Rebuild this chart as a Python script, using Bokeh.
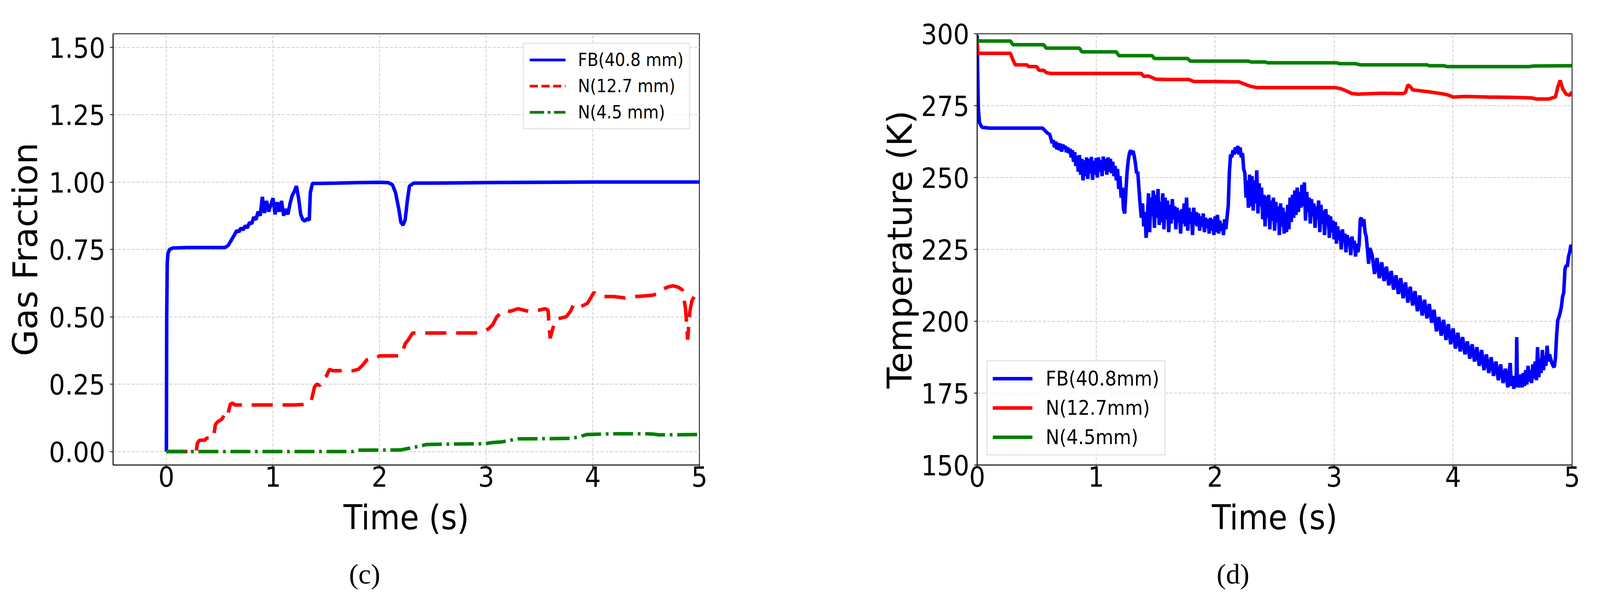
from bokeh.plotting import figure
from bokeh.layouts import row
from bokeh.models import Range1d, Legend, LegendItem, Title, FixedTicker, NumeralTickFormatter
from bokeh.embed import file_html
from bokeh.resources import INLINE

# ---------------- data: panel (c) gas fraction ----------------
x_ticks = [0, 1, 2, 3, 4, 5]
gf_ticks = [0.0, 0.25, 0.5, 0.75, 1.0, 1.25, 1.5]
T_ticks = [150, 175, 200, 225, 250, 275, 300]

gf_fb = [(0.0, 0.0), (0.003, 0.50), (0.008, 0.70), (0.015, 0.735), (0.03, 0.750), (0.06, 0.755),
         (0.2, 0.757), (0.4, 0.757), (0.55, 0.757), (0.58, 0.765), (0.61, 0.785), (0.64, 0.805),
         (0.66, 0.82), (0.68, 0.815), (0.70, 0.83), (0.72, 0.822), (0.74, 0.838), (0.76, 0.83),
         (0.78, 0.85), (0.80, 0.845), (0.82, 0.87), (0.84, 0.86), (0.86, 0.89), (0.88, 0.875),
         (0.90, 0.945), (0.92, 0.885), (0.94, 0.93), (0.96, 0.89), (0.98, 0.915), (1.00, 0.94),
         (1.02, 0.88), (1.04, 0.925), (1.06, 0.89), (1.08, 0.93), (1.10, 0.875), (1.12, 0.90),
         (1.14, 0.88), (1.16, 0.92), (1.18, 0.95), (1.20, 0.965), (1.22, 0.985), (1.24, 0.94),
         (1.26, 0.88), (1.28, 0.86), (1.30, 0.855), (1.32, 0.865), (1.34, 0.858), (1.35, 0.96),
         (1.37, 0.995), (1.45, 0.995), (1.6, 0.996), (1.8, 0.998), (2.0, 0.999), (2.08, 0.998),
         (2.12, 0.99), (2.15, 0.96), (2.18, 0.90), (2.20, 0.85), (2.22, 0.84), (2.24, 0.86),
         (2.26, 0.93), (2.28, 0.985), (2.32, 0.996), (2.5, 0.996), (3.0, 0.998), (3.5, 0.999),
         (4.0, 1.0), (4.5, 1.0), (5.0, 1.0)]

gf_n127 = [(0.0, 0.0), (0.28, 0.0), (0.29, 0.03), (0.31, 0.042), (0.36, 0.042), (0.38, 0.05),
           (0.44, 0.05), (0.46, 0.10), (0.48, 0.11), (0.52, 0.12), (0.55, 0.14), (0.57, 0.13),
           (0.60, 0.175), (0.62, 0.18), (0.64, 0.173), (0.8, 0.173), (1.0, 0.173), (1.2, 0.173),
           (1.32, 0.175), (1.36, 0.19), (1.39, 0.24), (1.41, 0.25), (1.44, 0.245), (1.47, 0.27),
           (1.50, 0.28), (1.53, 0.305), (1.56, 0.30), (1.65, 0.30), (1.75, 0.30), (1.80, 0.305),
           (1.84, 0.32), (1.88, 0.34), (1.92, 0.345), (1.96, 0.345), (2.0, 0.355), (2.1, 0.355),
           (2.18, 0.355), (2.21, 0.365), (2.24, 0.40), (2.27, 0.415), (2.31, 0.44), (2.36, 0.44),
           (2.5, 0.44), (2.7, 0.44), (2.9, 0.44), (2.98, 0.445), (3.02, 0.455), (3.06, 0.47),
           (3.10, 0.50), (3.14, 0.515), (3.18, 0.525), (3.22, 0.52), (3.3, 0.53), (3.4, 0.52),
           (3.5, 0.525), (3.55, 0.53), (3.58, 0.525), (3.59, 0.47), (3.60, 0.42), (3.62, 0.45),
           (3.65, 0.49), (3.70, 0.495), (3.75, 0.50), (3.79, 0.52), (3.82, 0.545), (3.86, 0.535),
           (3.90, 0.54), (3.95, 0.55), (3.98, 0.57), (4.01, 0.59), (4.05, 0.58), (4.1, 0.575),
           (4.2, 0.575), (4.3, 0.57), (4.4, 0.575), (4.5, 0.578), (4.56, 0.58), (4.6, 0.585),
           (4.65, 0.60), (4.7, 0.61), (4.75, 0.615), (4.8, 0.61), (4.84, 0.60), (4.87, 0.53),
           (4.89, 0.415), (4.91, 0.52), (4.93, 0.56), (4.96, 0.58), (5.0, 0.57)]

gf_n45 = [(0.0, 0.0), (0.5, 0.0), (1.0, 0.0), (1.5, 0.0), (1.75, 0.0), (1.8, 0.005), (2.2, 0.006),
          (2.25, 0.01), (2.35, 0.018), (2.44, 0.026), (2.7, 0.028), (2.99, 0.029), (3.05, 0.033),
          (3.15, 0.036), (3.2, 0.04), (3.3, 0.047), (3.6, 0.048), (3.8, 0.049), (3.88, 0.055),
          (3.94, 0.063), (4.2, 0.066), (4.5, 0.066), (4.56, 0.065), (4.62, 0.062), (5.0, 0.063)]

# ---------------- data: panel (d) temperature ----------------
T_fb = [(0.00, 299.5), (0.005, 285.0), (0.01, 274.0), (0.02, 269.0), (0.04, 267.5), (0.1, 267.2),
        (0.3, 267.2), (0.55, 267.2), (0.57, 266.3), (0.59, 265.5), (0.61, 265.0), (0.62, 263.5),
        (0.63, 262.0), (0.64, 263.0), (0.65, 260.5), (0.66, 262.5), (0.67, 259.8), (0.68, 262.0),
        (0.69, 259.5), (0.70, 261.8), (0.71, 259.0), (0.72, 261.5), (0.73, 260.0), (0.74, 261.0),
        (0.75, 258.8), (0.76, 260.5), (0.77, 258.5), (0.78, 260.0), (0.79, 257.0), (0.80, 259.5),
        (0.81, 255.5), (0.82, 258.8), (0.83, 254.0), (0.84, 257.5), (0.85, 252.0), (0.86, 257.8),
        (0.87, 251.0), (0.88, 256.5), (0.89, 249.0), (0.90, 256.0), (0.91, 250.5), (0.92, 257.0),
        (0.93, 249.5), (0.94, 256.5), (0.95, 251.5), (0.96, 257.2), (0.97, 249.2), (0.98, 255.8),
        (0.99, 251.0), (1.00, 256.8), (1.01, 250.0), (1.02, 257.0), (1.03, 252.0), (1.04, 256.0),
        (1.05, 250.5), (1.06, 257.3), (1.07, 252.5), (1.08, 256.5), (1.09, 251.0), (1.10, 257.0),
        (1.11, 252.0), (1.12, 256.5), (1.13, 251.5), (1.14, 255.5), (1.15, 250.5), (1.16, 254.0),
        (1.17, 249.0), (1.18, 253.0), (1.19, 246.0), (1.20, 250.5), (1.21, 243.0), (1.22, 246.5),
        (1.23, 239.0), (1.24, 237.5), (1.25, 245.0), (1.26, 252.0), (1.27, 256.0), (1.28, 258.5),
        (1.29, 259.5), (1.30, 258.0), (1.31, 259.3), (1.32, 257.5), (1.33, 255.0), (1.34, 251.5),
        (1.35, 252.0), (1.36, 246.0), (1.37, 240.5), (1.38, 236.0), (1.39, 241.0), (1.40, 233.0),
        (1.41, 238.0), (1.42, 229.0), (1.43, 235.0),
        (1.44, 244.5), (1.45, 231.0), (1.46, 243.0), (1.47, 236.5), (1.48, 245.5), (1.49, 232.5),
        (1.50, 244.0), (1.51, 236.0), (1.52, 246.0), (1.53, 233.5), (1.54, 241.5), (1.55, 234.5),
        (1.56, 244.5), (1.57, 232.0), (1.58, 243.0), (1.59, 235.5), (1.60, 242.0), (1.61, 231.0),
        (1.62, 240.5), (1.63, 234.0), (1.64, 242.5), (1.65, 235.5), (1.66, 240.0), (1.67, 232.0),
        (1.68, 239.5), (1.69, 234.5), (1.70, 238.5), (1.71, 230.5), (1.72, 239.0), (1.73, 234.0),
        (1.74, 241.0), (1.75, 233.0), (1.76, 243.0), (1.77, 231.5), (1.78, 239.5), (1.79, 234.0),
        (1.80, 238.0), (1.81, 230.0), (1.82, 239.5), (1.83, 233.5), (1.84, 238.0), (1.85, 233.0),
        (1.86, 237.5), (1.87, 231.5), (1.88, 236.5), (1.89, 233.0), (1.90, 237.5), (1.91, 231.0),
        (1.92, 236.0), (1.93, 232.5), (1.94, 235.5), (1.95, 230.5), (1.96, 236.0), (1.97, 231.5),
        (1.98, 235.5), (1.99, 230.0), (2.00, 236.5), (2.01, 231.0), (2.02, 237.0), (2.03, 230.5),
        (2.04, 235.0), (2.05, 231.5), (2.06, 234.0), (2.07, 230.0), (2.08, 235.5), (2.09, 232.0),
        (2.10, 236.0),
        (2.11, 240.0), (2.12, 252.0), (2.13, 258.0), (2.14, 257.0), (2.15, 259.5), (2.16, 258.0),
        (2.17, 260.5), (2.18, 258.5), (2.19, 261.0), (2.20, 258.0), (2.21, 260.5), (2.22, 257.0),
        (2.23, 258.5), (2.24, 253.0), (2.25, 251.5), (2.26, 243.0), (2.27, 249.0), (2.28, 239.5),
        (2.29, 251.0), (2.30, 240.0), (2.31, 250.5), (2.32, 238.5), (2.33, 249.0), (2.34, 241.0),
        (2.35, 252.5), (2.36, 237.5), (2.37, 248.0), (2.38, 240.0), (2.39, 246.5), (2.40, 235.5),
        (2.41, 244.0), (2.42, 233.0), (2.43, 243.5), (2.44, 236.0), (2.45, 244.0), (2.46, 232.0),
        (2.47, 242.0), (2.48, 235.0), (2.49, 243.0), (2.50, 231.5), (2.51, 241.5), (2.52, 234.5),
        (2.53, 240.0), (2.54, 230.0), (2.55, 241.0), (2.56, 233.0), (2.57, 239.5), (2.58, 230.5),
        (2.59, 238.0), (2.60, 231.0),
        (2.61, 240.5), (2.62, 232.0), (2.63, 243.0), (2.64, 234.5), (2.65, 244.0), (2.66, 236.0),
        (2.67, 245.5), (2.68, 237.0), (2.69, 246.5), (2.70, 238.0), (2.71, 245.0), (2.72, 239.5),
        (2.73, 247.5), (2.74, 240.0), (2.75, 248.3), (2.76, 235.0), (2.77, 245.0), (2.78, 238.0),
        (2.79, 243.0), (2.80, 234.0), (2.81, 242.5), (2.82, 236.5), (2.83, 241.0), (2.84, 232.5),
        (2.85, 240.0), (2.86, 235.5), (2.87, 242.0), (2.88, 231.0), (2.89, 240.5), (2.90, 234.0),
        (2.91, 238.5), (2.92, 230.0), (2.93, 239.0), (2.94, 233.5), (2.95, 237.0), (2.96, 229.0),
        (2.97, 236.5), (2.98, 231.0), (2.99, 235.0), (3.00, 228.5),
        (3.01, 234.5), (3.02, 227.0), (3.03, 233.0), (3.04, 228.5), (3.05, 231.5), (3.06, 225.0),
        (3.07, 232.0), (3.08, 227.5), (3.09, 230.5), (3.10, 224.0), (3.11, 230.0), (3.12, 226.5),
        (3.13, 229.0), (3.14, 223.0), (3.15, 229.5), (3.16, 225.5), (3.17, 228.0), (3.18, 222.5),
        (3.19, 227.0), (3.20, 224.0), (3.21, 226.5), (3.22, 235.5), (3.23, 236.0), (3.24, 233.0),
        (3.25, 235.5), (3.26, 231.0), (3.27, 229.5), (3.28, 225.0), (3.29, 220.0), (3.30, 225.5),
        (3.32, 223.0), (3.34, 216.5), (3.36, 222.0), (3.38, 215.0), (3.40, 220.5), (3.42, 214.0),
        (3.44, 219.0), (3.46, 212.5), (3.48, 217.5), (3.50, 211.0), (3.52, 216.0), (3.54, 209.5),
        (3.56, 215.0), (3.58, 208.0), (3.60, 213.5), (3.62, 206.5), (3.64, 212.0), (3.66, 205.5),
        (3.68, 210.5), (3.70, 203.5), (3.72, 209.0), (3.74, 202.0), (3.76, 207.5), (3.78, 201.0),
        (3.80, 206.0), (3.82, 199.5), (3.84, 204.0), (3.86, 196.5), (3.88, 201.5), (3.90, 195.0),
        (3.92, 200.5), (3.94, 193.5), (3.96, 199.0), (3.98, 192.0), (4.00, 197.5), (4.02, 190.5),
        (4.04, 196.0), (4.06, 189.5), (4.08, 194.5), (4.10, 188.5), (4.12, 193.0), (4.14, 187.0),
        (4.16, 192.0), (4.18, 186.0), (4.20, 191.0), (4.22, 184.5), (4.24, 190.0), (4.26, 183.0),
        (4.28, 188.5), (4.30, 182.0), (4.32, 187.5), (4.34, 181.0), (4.36, 186.0), (4.38, 179.5),
        (4.40, 185.0), (4.42, 178.5), (4.44, 183.5), (4.46, 177.0),
        (4.47, 181.5), (4.48, 185.5), (4.49, 177.5), (4.50, 181.0), (4.51, 176.5), (4.52, 180.0),
        (4.53, 177.0), (4.535, 194.5), (4.54, 178.0), (4.55, 180.0), (4.56, 177.0), (4.57, 181.5),
        (4.58, 177.0), (4.59, 182.0), (4.60, 177.5), (4.61, 183.0), (4.62, 178.0), (4.63, 184.5),
        (4.64, 179.0), (4.65, 183.0), (4.66, 178.5), (4.67, 185.0), (4.68, 180.0), (4.69, 186.0),
        (4.70, 179.5), (4.71, 191.0), (4.72, 180.5), (4.73, 187.0), (4.74, 182.0), (4.75, 190.0),
        (4.76, 183.0), (4.77, 188.0), (4.78, 184.5), (4.79, 191.5), (4.80, 186.0), (4.81, 188.5),
        (4.82, 187.0), (4.83, 185.5), (4.84, 184.5), (4.85, 184.0), (4.86, 187.0), (4.87, 195.0),
        (4.88, 200.5), (4.89, 201.5), (4.90, 203.0), (4.91, 205.0), (4.92, 208.5), (4.93, 210.0),
        (4.94, 218.0), (4.95, 219.5), (4.96, 219.0), (4.97, 222.5), (4.98, 224.0), (4.99, 226.5),
        (5.00, 226.0)]

T_n127 = [(0.0, 297.0), (0.005, 294.0), (0.01, 293.2), (0.28, 293.2), (0.3, 291.0), (0.32, 289.2),
          (0.42, 289.2), (0.43, 288.6), (0.5, 288.6), (0.52, 287.3), (0.56, 287.3), (0.58, 286.5),
          (0.62, 286.2), (1.0, 286.2), (1.38, 286.2), (1.40, 285.2), (1.44, 285.3), (1.48, 284.6),
          (1.5, 284.2), (1.6, 284.1), (1.78, 284.1), (1.82, 283.4), (2.0, 283.4), (2.15, 283.3),
          (2.2, 283.3), (2.26, 282.3), (2.3, 281.7), (2.35, 281.3), (2.6, 281.3), (3.0, 281.3),
          (3.05, 281.0), (3.1, 280.2), (3.15, 279.2), (3.2, 279.0), (3.4, 279.3), (3.58, 279.2),
          (3.60, 279.6), (3.62, 282.2), (3.64, 281.6), (3.66, 280.5), (3.7, 280.3), (3.8, 279.8),
          (3.9, 279.2), (3.95, 278.8), (4.0, 278.0), (4.1, 278.2), (4.3, 278.0), (4.5, 277.9),
          (4.66, 277.7), (4.7, 277.3), (4.8, 277.3), (4.86, 278.0), (4.88, 281.5), (4.9, 283.8),
          (4.92, 281.0), (4.95, 279.0), (4.98, 278.6), (5.0, 279.8)]

T_n45 = [(0.0, 298.5), (0.01, 297.5), (0.28, 297.5), (0.30, 296.2), (0.56, 296.2), (0.58, 295.0),
         (0.86, 295.0), (0.88, 293.7), (1.17, 293.7), (1.19, 292.4), (1.47, 292.4), (1.49, 291.4),
         (1.77, 291.4), (1.79, 290.5), (2.28, 290.5), (2.3, 290.2), (2.42, 290.2), (2.44, 289.9),
         (3.02, 289.9), (3.05, 289.6), (3.18, 289.6), (3.22, 289.2), (3.78, 289.2), (3.8, 288.9),
         (3.92, 288.9), (3.95, 288.6), (4.64, 288.6), (4.68, 288.8), (5.0, 288.9)]

labels_c = ["FB(40.8 mm)", "N(12.7 mm)", "N(4.5 mm)"]
labels_d = ["FB(40.8mm)", "N(12.7mm)", "N(4.5mm)"]
panel_tags = ["(c)", "(d)"]

FONT_H = "DejaVu Sans Condensed"
FONT_V = "DejaVu Sans"
H = 1538
LW = 9
NAN = float("nan")


def xs(pairs):
    return [p[0] for p in pairs]


def ys(pairs):
    return [p[1] for p in pairs]


def style(p, yticks, yfmt, ylabel_standoff):
    p.background_fill_color = "white"
    p.border_fill_color = "white"
    p.outline_line_color = "black"
    p.outline_line_width = 2
    p.xaxis.ticker = FixedTicker(ticks=x_ticks)
    p.yaxis.ticker = FixedTicker(ticks=yticks)
    if yfmt:
        p.yaxis.formatter = NumeralTickFormatter(format=yfmt)
    for ax in p.axis:
        ax.axis_line_color = "black"
        ax.axis_line_width = 2
        ax.major_tick_line_color = "black"
        ax.major_tick_line_width = 2
        ax.major_tick_out = 8
        ax.major_tick_in = 0
        ax.minor_tick_line_color = None
        ax.major_label_text_font = FONT_H
        ax.major_label_text_font_size = "72px"
        ax.major_label_text_color = "black"
        ax.axis_label_text_font_size = "88px"
        ax.axis_label_text_font_style = "normal"
        ax.axis_label_text_color = "black"
    p.xaxis.axis_label_text_font = FONT_H
    p.yaxis.axis_label_text_font = FONT_V
    p.xaxis.major_label_standoff = -6
    p.xaxis.axis_label_standoff = 24
    p.yaxis.major_label_standoff = 12
    p.yaxis.axis_label_standoff = ylabel_standoff
    for g in (p.xgrid, p.ygrid):
        g.grid_line_color = "#cccccc"
        g.grid_line_width = 2
        g.grid_line_dash = "8 4"


def tag(p, text, offset):
    # thin spacer, then the panel caption below the x-axis title
    p.add_layout(Title(text=" ", text_font_size="22px", standoff=0), "below")
    p.add_layout(Title(text=text, align="left", offset=offset, standoff=45,
                       text_font="Liberation Serif", text_font_size="72px",
                       text_font_style="normal", text_color="black"), "below")


# ---------------- panel (c) ----------------
p1 = figure(width=2038, height=H, output_backend="svg", toolbar_location=None,
            x_range=Range1d(-0.5, 5.0), y_range=Range1d(-0.05, 1.55),
            min_border_left=289, min_border_right=248, min_border_top=56, min_border_bottom=346,
            x_axis_label="Time (s)", y_axis_label="Gas Fraction")
style(p1, gf_ticks, "0.00", 6)

p1.line(xs(gf_fb), ys(gf_fb), line_color="blue", line_width=LW)
p1.line(xs(gf_n127), ys(gf_n127), line_color="red", line_width=LW, line_dash="54 25")
p1.line(xs(gf_n45), ys(gf_n45), line_color="green", line_width=LW, line_dash="51 12 7 12")

l1a = p1.line([NAN], [NAN], line_color="blue", line_width=7)
l1b = p1.line([NAN], [NAN], line_color="red", line_width=7, line_dash="21 9")
l1c = p1.line([NAN], [NAN], line_color="green", line_width=7, line_dash="37 9 7 9")
leg1 = Legend(items=[LegendItem(label=labels_c[0], renderers=[l1a]),
                     LegendItem(label=labels_c[1], renderers=[l1b]),
                     LegendItem(label=labels_c[2], renderers=[l1c])],
              location="top_right", margin=23, padding=14, spacing=13,
              glyph_width=92, glyph_height=54, label_height=54, label_standoff=32,
              label_text_font=FONT_H, label_text_font_size="46px", label_text_color="black",
              border_line_color="#cccccc", border_line_width=3,
              background_fill_color="white", background_fill_alpha=0.8)
p1.add_layout(leg1, "center")
tag(p1, panel_tags[0], 604)

# ---------------- panel (d) ----------------
p2 = figure(width=2042, height=H, output_backend="svg", toolbar_location=None,
            x_range=Range1d(0.0, 5.0), y_range=Range1d(150, 300),
            min_border_left=463, min_border_right=56, min_border_top=86, min_border_bottom=348,
            x_axis_label="Time (s)", y_axis_label="Temperature (K)")
style(p2, T_ticks, None, 0)

r_fb = p2.line(xs(T_fb), ys(T_fb), line_color="blue", line_width=LW)
r_n127 = p2.line(xs(T_n127), ys(T_n127), line_color="red", line_width=LW)
r_n45 = p2.line(xs(T_n45), ys(T_n45), line_color="green", line_width=LW)

leg2 = Legend(items=[LegendItem(label=labels_d[0], renderers=[r_fb]),
                     LegendItem(label=labels_d[1], renderers=[r_n127]),
                     LegendItem(label=labels_d[2], renderers=[r_n45])],
              location="bottom_left", margin=24, padding=13, spacing=13,
              glyph_width=102, glyph_height=62, label_height=62, label_standoff=34,
              label_text_font=FONT_H, label_text_font_size="52px", label_text_color="black",
              border_line_color="#cccccc", border_line_width=3,
              background_fill_color="white", background_fill_alpha=0.8)
p2.add_layout(leg2, "center")
tag(p2, panel_tags[1], 613)

layout = row(p1, p2)
open("out.html", "w").write(file_html(layout, INLINE))
